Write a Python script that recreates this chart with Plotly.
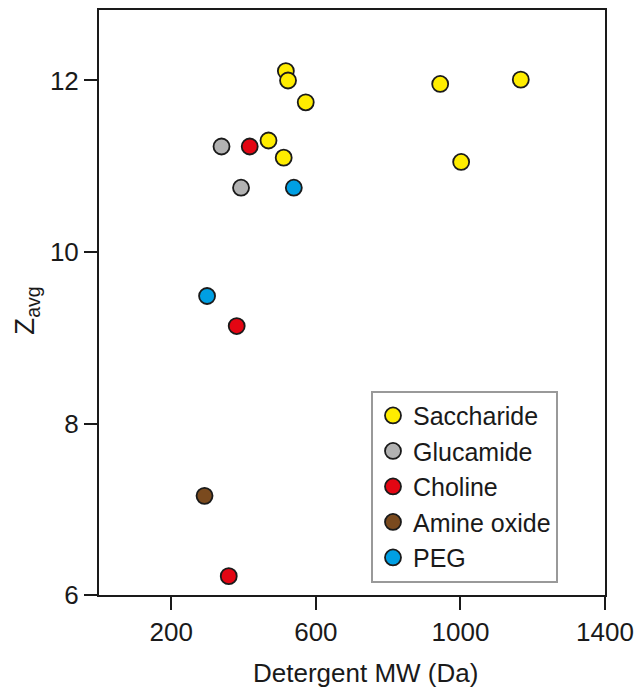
import plotly.graph_objects as go

# Data
saccharide_mw = [517, 523, 572, 944, 1167, 469, 511, 1002]
saccharide_z = [12.11, 12.00, 11.745, 11.96, 12.01, 11.30, 11.10, 11.05]

glucamide_mw = [339, 393]
glucamide_z = [11.23, 10.75]

choline_mw = [417, 381, 359]
choline_z = [11.23, 9.136, 6.22]

amine_oxide_mw = [292]
amine_oxide_z = [7.156]

peg_mw = [539, 299]
peg_z = [10.75, 9.487]

series = [
    ("Saccharide", saccharide_mw, saccharide_z, "#FFED00"),
    ("Glucamide", glucamide_mw, glucamide_z, "#B2B2B2"),
    ("Choline", choline_mw, choline_z, "#E30613"),
    ("Amine oxide", amine_oxide_mw, amine_oxide_z, "#7A4A1E"),
    ("PEG", peg_mw, peg_z, "#009FE3"),
]

x_ticks = [200, 600, 1000, 1400]
y_ticks = [6, 8, 10, 12]

FONT = "Liberation Sans, Arial, Helvetica, sans-serif"

# page offset of 8px (body margin) compensated in the geometry below
PL, PR, PB = 99, 605, 595  # plot-area edges in page pixels
PH = 587                     # plot-area height

fig = go.Figure()
for name, xs, ys, color in series:
    fig.add_trace(go.Scatter(
        x=xs, y=ys, mode="markers", name=name,
        marker=dict(size=16, color=color, line=dict(color="#1a1a1a", width=1.8)),
    ))

axis_common = dict(
    showgrid=False, zeroline=False, showline=True, linecolor="#1a1a1a",
    linewidth=2, mirror=True, ticks="outside", ticklen=13, tickwidth=1.5,
    tickcolor="#1a1a1a", tickfont=dict(family=FONT, size=26, color="#1a1a1a"),
)

fig.update_layout(
    width=635, height=685,
    margin=dict(l=91, r=38, t=0, b=98, pad=0),
    plot_bgcolor="white", paper_bgcolor="white",
    font=dict(family=FONT, size=26, color="#1a1a1a"),
    xaxis=dict(range=[0, 1400], tickvals=x_ticks, **axis_common),
    yaxis=dict(range=[6, 12.822], tickvals=y_ticks, **axis_common),
    showlegend=True,
    legend=dict(
        x=(371 - PL) / (PR - PL), y=(PB - 390) / PH, xanchor="left", yanchor="top",
        bordercolor="#999999", borderwidth=2, bgcolor="white",
        font=dict(family=FONT, size=25, color="#1a1a1a"),
        tracegroupgap=0,
    ),
    annotations=[
        dict(text="Detergent MW (Da)", xref="paper", yref="paper",
             x=(365 - PL) / (PR - PL), y=(PB - 673) / PH, xanchor="center", yanchor="middle",
             showarrow=False, font=dict(family=FONT, size=26, color="#1a1a1a")),
        dict(text="Z<sub>avg</sub>", xref="paper", yref="paper",
             x=(27 - PL) / (PR - PL), y=(PB - 310) / PH, xanchor="center", yanchor="middle",
             textangle=-90, showarrow=False,
             font=dict(family=FONT, size=28, color="#1a1a1a")),
    ],
)

fig.write_html("out.html")
